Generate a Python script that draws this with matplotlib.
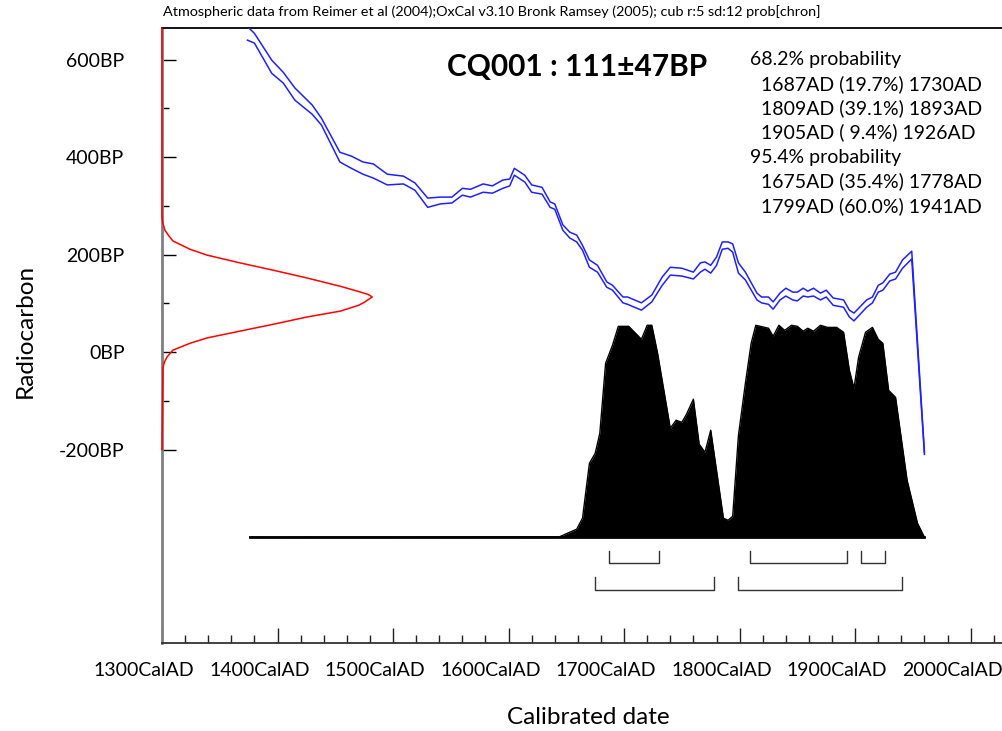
import numpy as np
import matplotlib
matplotlib.use('Agg')
import matplotlib.pyplot as plt
from matplotlib.ticker import FixedLocator, MultipleLocator
from matplotlib import transforms

plt.rcParams['font.family'] = ['Lato', 'DejaVu Sans']

# calibration curve, upper and lower edge of the band (cal AD -> BP)
cal_years = [1374, 1380, 1395, 1405, 1415, 1430, 1438, 1454, 1464, 1474, 1483, 1495,
             1509, 1519, 1530, 1541, 1551, 1560, 1567, 1578, 1586, 1595, 1601, 1605,
             1614, 1620, 1629, 1636, 1640, 1647, 1653, 1659, 1664, 1670, 1677, 1685,
             1690, 1699, 1703, 1709, 1715, 1724, 1733, 1740, 1750, 1760, 1766, 1770,
             1775, 1780, 1785, 1790, 1794, 1799, 1805, 1815, 1819, 1825, 1829, 1835,
             1840, 1846, 1850, 1855, 1859, 1864, 1870, 1875, 1881, 1890, 1895, 1899,
             1910, 1915, 1920, 1924, 1930, 1935, 1941, 1949, 1960]
cal_upper = [668, 654, 599, 574, 542, 507, 480, 410, 402, 390, 386, 365,
             361, 347, 316, 318, 318, 336, 334, 345, 341, 353, 355, 377,
             363, 343, 338, 308, 304, 261, 246, 240, 219, 189, 178, 144,
             137, 113, 113, 107, 101, 117, 154, 174, 172, 164, 183, 185,
             178, 195, 226, 226, 222, 183, 164, 121, 113, 113, 103, 121,
             131, 123, 123, 131, 125, 131, 121, 127, 111, 107, 86, 80,
             107, 113, 137, 142, 160, 164, 189, 207, -205]
cal_lower = [640, 634, 572, 552, 517, 488, 466, 390, 377, 365, 357, 343,
             345, 332, 297, 304, 306, 322, 318, 328, 326, 336, 341, 363,
             349, 328, 324, 297, 293, 250, 234, 226, 209, 174, 164, 133,
             127, 101, 98, 92, 86, 103, 137, 158, 156, 150, 164, 170,
             162, 178, 211, 213, 205, 162, 148, 107, 101, 98, 88, 107,
             115, 107, 105, 115, 113, 115, 107, 113, 96, 92, 72, 64,
             92, 101, 123, 127, 146, 150, 172, 191, -210]

# radiocarbon date 111+-47 BP, relative density
c14_bp = [665, 277, 265, 250, 240, 228, 211, 199, 183, 168, 152, 135, 128, 123, 118, 113,
          108, 102, 96, 84, 72, 57, 43, 29, 18, 4, -10, -20, -31, -200]
c14_dens = [0, 0, 0.004, 0.014, 0.030, 0.052, 0.133, 0.214, 0.371, 0.529, 0.690, 0.848,
            0.905, 0.945, 0.982, 1.0, 0.982, 0.962, 0.935, 0.848, 0.690, 0.529, 0.371,
            0.214, 0.133, 0.052, 0.024, 0.012, 0.005, 0]

# calibrated date, relative probability
prob_years = [1376, 1644, 1651, 1659, 1664, 1670, 1675, 1679, 1684, 1690, 1695, 1704,
              1715, 1720, 1724, 1729, 1740, 1745, 1750, 1754, 1760, 1765, 1770, 1775,
              1786, 1790, 1794, 1799, 1805, 1810, 1814, 1825, 1829, 1834, 1839, 1845,
              1850, 1855, 1859, 1864, 1870, 1876, 1884, 1890, 1895, 1899, 1903, 1909,
              1915, 1920, 1924, 1929, 1935, 1945, 1954, 1960]
prob_vals = [0, 0.002, 0.019, 0.038, 0.090, 0.349, 0.396, 0.491, 0.821, 0.906, 0.995, 0.995,
             0.934, 1.0, 1.0, 0.868, 0.514, 0.552, 0.542, 0.580, 0.651, 0.439, 0.401, 0.505,
             0.090, 0.080, 0.099, 0.481, 0.726, 0.915, 1.0, 0.986, 0.948, 1.0, 0.976, 1.0,
             0.995, 0.972, 0.986, 0.972, 1.0, 0.99, 0.99, 0.967, 0.788, 0.703, 0.849, 0.967,
             0.99, 0.934, 0.915, 0.693, 0.660, 0.269, 0.066, 0]

range68 = [(1687, 1730), (1809, 1893), (1905, 1926)]
range95 = [(1675, 1778), (1799, 1941)]

x_ticks = [1300, 1400, 1500, 1600, 1700, 1800, 1900, 2000]
x_labels = ['1300CalAD', '1400CalAD', '1500CalAD', '1600CalAD',
            '1700CalAD', '1800CalAD', '1900CalAD', '2000CalAD']
y_ticks = [-200, 0, 200, 400, 600]
y_labels = ['-200BP', '0BP', '200BP', '400BP', '600BP']

info_lines = ['68.2% probability', ' 1687AD (19.7%) 1730AD', ' 1809AD (39.1%) 1893AD',
              ' 1905AD ( 9.4%) 1926AD', '95.4% probability',
              ' 1675AD (35.4%) 1778AD', ' 1799AD (60.0%) 1941AD']

W, H = 1003, 731
fig = plt.figure(figsize=(W / 100, H / 100), dpi=100)
ax = fig.add_axes([162 / W, 1 - 643 / H, 841 / W, 615 / H])

ax.set_xlim(1300, 2028)
ax.set_ylim(-597, 665)

# calibrated distribution (black)
base = -380
scale = 435
pv = np.array(prob_vals)
ax.fill_between(prob_years, base, base + pv * scale, color='black', lw=0, zorder=2)
ax.plot(prob_years, base + pv * scale, color='black', lw=1, zorder=2)
ax.plot([prob_years[0], prob_years[-1]], [base, base], color='black', lw=2, zorder=2)

# calibration curve
ax.plot(cal_years, cal_upper, color='#2020ff', lw=1.1, zorder=3)
ax.plot(cal_years, cal_lower, color='#2020ff', lw=1.1, zorder=3)

# radiocarbon date (red)
ax.plot(1300 + np.array(c14_dens) * 182, c14_bp, color='red', lw=1.1,
        clip_on=False, zorder=5)

# range brackets
for a, b in range68:
    ax.plot([a, a, b, b], [-408, -433, -433, -408], color='#333333', lw=1)
for a, b in range95:
    ax.plot([a, a, b, b], [-462, -488, -488, -462], color='#333333', lw=1)

# axes styling
ax.spines['right'].set_visible(False)
ax.spines['top'].set_color('black')
ax.spines['top'].set_linewidth(1.3)
ax.spines['left'].set_color('#808080')
ax.spines['left'].set_linewidth(2)
ax.spines['bottom'].set_color('#333333')
ax.spines['bottom'].set_linewidth(1.3)

ax.xaxis.set_major_locator(FixedLocator(x_ticks))
ax.set_xticklabels(x_labels)
ax.xaxis.set_minor_locator(MultipleLocator(20))
ax.yaxis.set_major_locator(FixedLocator(y_ticks))
ax.set_yticklabels(y_labels)
ax.yaxis.set_minor_locator(FixedLocator([-100, 100, 300, 500]))

ax.tick_params(axis='x', which='major', direction='in', length=11, width=1,
               labelsize=14, pad=14, color='#222222')
ax.tick_params(axis='x', which='minor', direction='in', length=5.5, width=1, color='#222222')
ax.tick_params(axis='y', which='major', direction='in', length=10, width=1,
               labelsize=14, pad=27, color='black')
ax.tick_params(axis='y', which='minor', direction='in', length=5, width=1, color='black')

offset = transforms.ScaledTranslation(-0.18, 0, fig.dpi_scale_trans)
for lab in ax.get_xticklabels():
    lab.set_transform(lab.get_transform() + offset)

ax.set_xlabel('Calibrated date', fontsize=17.5)
ax.set_ylabel('Radiocarbon', fontsize=17.5)
ax.xaxis.label.set_va('center')
ax.yaxis.label.set_va('center')
ax.xaxis.set_label_coords((588 - 162) / 841, (643 - 717) / 615)
ax.yaxis.set_label_coords((25 - 162) / 841, (643 - 331) / 615)

fig.text(163 / W, 1 - 12 / H,
         'Atmospheric data from Reimer et al (2004);OxCal v3.10 Bronk Ramsey (2005); '
         'cub r:5 sd:12 prob[chron]', fontsize=10.4, va='center', ha='left')
fig.text(447 / W, 1 - 67 / H, 'CQ001 : 111±47BP', fontsize=21.5, fontweight='bold',
         va='center', ha='left')

line_y = [59, 84, 108, 132, 157, 181, 206]
for s, yy in zip(info_lines, line_y):
    xx = 750 if not s.startswith(' ') else 761
    fig.text(xx / W, 1 - yy / H, s.strip(), fontsize=14, va='center', ha='left')

fig.savefig('out.png', dpi=100)
